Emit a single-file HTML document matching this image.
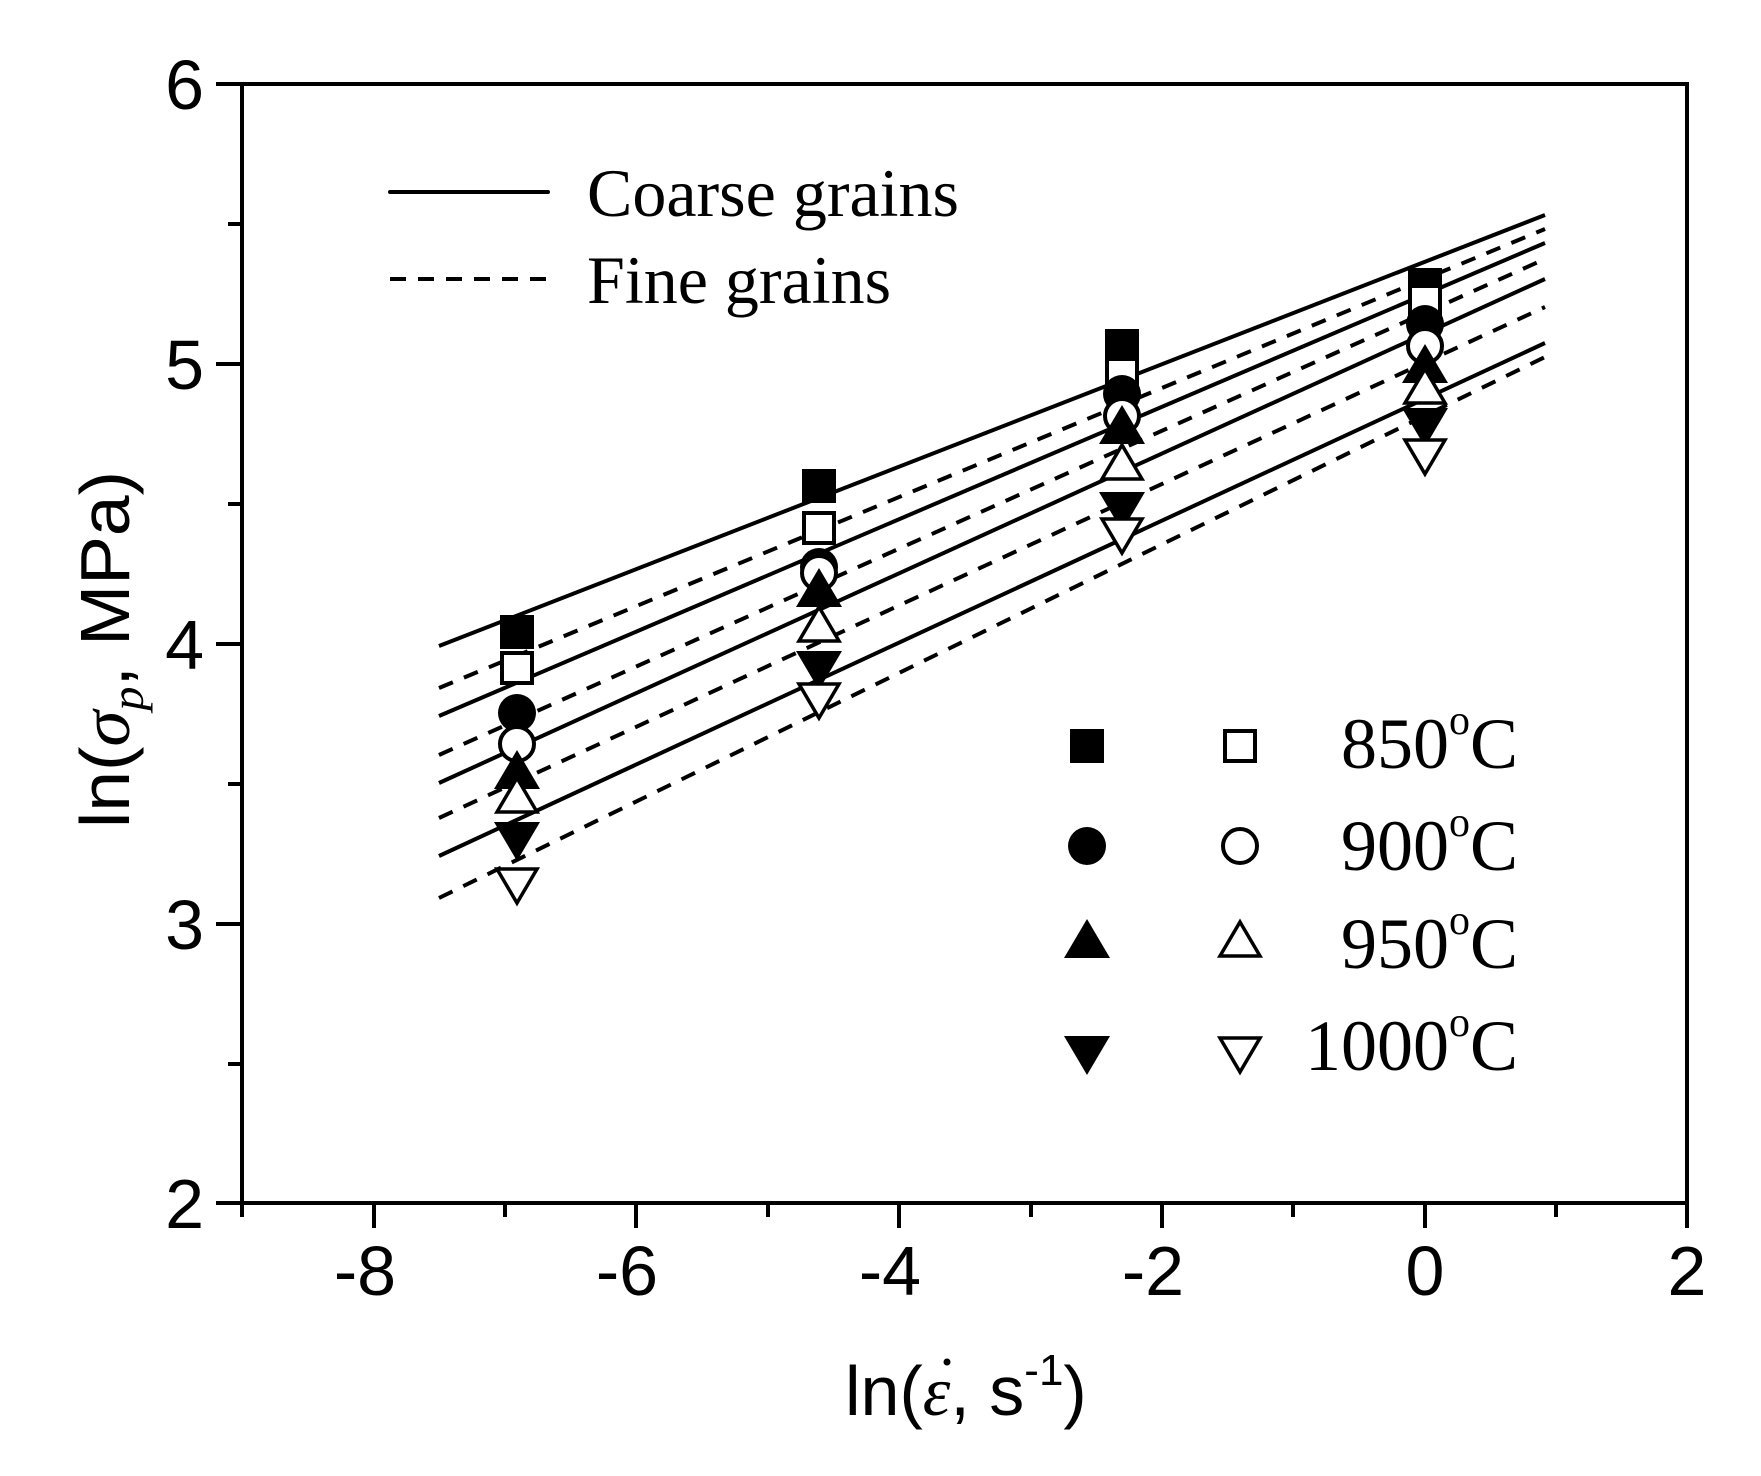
<!DOCTYPE html>
<html><head><meta charset="utf-8"><style>
html,body{margin:0;padding:0;background:#fff;}
svg{display:block;}
.ax{font-family:"Liberation Sans",Arial,sans-serif;font-size:70px;fill:#000;}
.lg{font-family:"Liberation Serif","Times New Roman",serif;fill:#000;}
</style></head><body>
<svg width="1761" height="1476" viewBox="0 0 1761 1476" xmlns="http://www.w3.org/2000/svg">
<defs>
<rect id="sqF" x="-17" y="-17" width="34" height="34" fill="#000"/>
<rect id="sqO" x="-15" y="-15" width="30" height="30" fill="#fff" stroke="#000" stroke-width="4"/>
<circle id="cF" r="19" fill="#000"/>
<circle id="cO" r="17" fill="#fff" stroke="#000" stroke-width="4"/>
<polygon id="tF" points="0,-22 23,17 -23,17" fill="#000"/>
<polygon id="tO" points="0,-19 20,15 -20,15" fill="#fff" stroke="#000" stroke-width="3.5"/>
<polygon id="dF" points="0,22 23,-17 -23,-17" fill="#000"/>
<polygon id="dO" points="0,19 20,-15 -20,-15" fill="#fff" stroke="#000" stroke-width="3.5"/>
</defs>
<g stroke="#000" stroke-width="4" fill="none" stroke-linecap="square">
<rect x="242" y="84" width="1445" height="1119"/>
<line x1="218" y1="84" x2="242" y2="84"/>
<line x1="230" y1="224" x2="242" y2="224"/>
<line x1="218" y1="364" x2="242" y2="364"/>
<line x1="230" y1="504" x2="242" y2="504"/>
<line x1="218" y1="644" x2="242" y2="644"/>
<line x1="230" y1="784" x2="242" y2="784"/>
<line x1="218" y1="924" x2="242" y2="924"/>
<line x1="230" y1="1064" x2="242" y2="1064"/>
<line x1="218" y1="1203" x2="242" y2="1203"/>
<line x1="242" y1="1203" x2="242" y2="1215"/>
<line x1="374" y1="1203" x2="374" y2="1226"/>
<line x1="505" y1="1203" x2="505" y2="1215"/>
<line x1="636" y1="1203" x2="636" y2="1226"/>
<line x1="768" y1="1203" x2="768" y2="1215"/>
<line x1="899" y1="1203" x2="899" y2="1226"/>
<line x1="1031" y1="1203" x2="1031" y2="1215"/>
<line x1="1162" y1="1203" x2="1162" y2="1226"/>
<line x1="1293" y1="1203" x2="1293" y2="1215"/>
<line x1="1425" y1="1203" x2="1425" y2="1226"/>
<line x1="1556" y1="1203" x2="1556" y2="1215"/>
<line x1="1687" y1="1203" x2="1687" y2="1226"/>
</g>
<g class="ax" text-anchor="end">
<text x="204" y="109">6</text>
<text x="204" y="389">5</text>
<text x="204" y="669">4</text>
<text x="204" y="949">3</text>
<text x="204" y="1228">2</text>
</g>
<g class="ax" text-anchor="middle">
<text x="365" y="1295">-8</text>
<text x="627" y="1295">-6</text>
<text x="890" y="1295">-4</text>
<text x="1153" y="1295">-2</text>
<text x="1425" y="1295">0</text>
<text x="1687" y="1295">2</text>
</g>
<text class="ax" font-size="76" transform="translate(129,828) rotate(-90)" textLength="357" lengthAdjust="spacingAndGlyphs">ln(<tspan font-family="Liberation Serif" font-style="italic">σ</tspan><tspan font-size="46" dy="14" font-family="Liberation Serif" font-style="italic">p</tspan><tspan dy="-14">, MPa)</tspan></text>
<text class="ax" x="845" y="1415">ln(<tspan font-family="Liberation Serif" font-style="italic">ε</tspan>, s<tspan font-size="44" dy="-30">-1</tspan><tspan dy="30">)</tspan></text>
<circle cx="947" cy="1362" r="3.5" fill="#000"/>
<g stroke="#000" stroke-width="4" fill="none">
<line x1="439" y1="646" x2="1545" y2="215"/>
<line x1="439" y1="716" x2="1545" y2="243"/>
<line x1="439" y1="783" x2="1545" y2="279"/>
<line x1="439" y1="856" x2="1545" y2="343"/>
</g>
<g stroke="#000" stroke-width="4" fill="none" stroke-dasharray="15 12">
<line x1="439" y1="688" x2="1545" y2="229"/>
<line x1="439" y1="755" x2="1545" y2="259"/>
<line x1="439" y1="818" x2="1545" y2="307"/>
<line x1="439" y1="898" x2="1545" y2="357"/>
</g>
<use href="#sqF" x="517" y="632"/><use href="#sqF" x="819" y="486"/><use href="#sqF" x="1122" y="346"/><use href="#sqF" x="1425" y="285"/>
<use href="#sqO" x="517" y="668"/><use href="#sqO" x="819" y="528"/><use href="#sqO" x="1122" y="374"/><use href="#sqO" x="1425" y="301"/>
<use href="#cF" x="517" y="713"/><use href="#cF" x="819" y="567"/><use href="#cF" x="1122" y="394"/><use href="#cF" x="1425" y="324"/>
<use href="#cO" x="517" y="744"/><use href="#cO" x="819" y="573"/><use href="#cO" x="1122" y="416"/><use href="#cO" x="1425" y="346"/>
<use href="#tF" x="517" y="772"/><use href="#tF" x="819" y="590"/><use href="#tF" x="1122" y="427"/><use href="#tF" x="1425" y="366"/>
<use href="#tO" x="517" y="797"/><use href="#tO" x="819" y="626"/><use href="#tO" x="1122" y="464"/><use href="#tO" x="1425" y="388"/>
<use href="#dF" x="517" y="839"/><use href="#dF" x="819" y="668"/><use href="#dF" x="1122" y="509"/><use href="#dF" x="1425" y="425"/>
<use href="#dO" x="517" y="884"/><use href="#dO" x="819" y="699"/><use href="#dO" x="1122" y="534"/><use href="#dO" x="1425" y="455"/>
<line x1="390" y1="192" x2="548" y2="192" stroke="#000" stroke-width="4" stroke-linecap="round"/>
<line x1="390" y1="279" x2="548" y2="279" stroke="#000" stroke-width="4" stroke-dasharray="16 12"/>
<text class="lg" x="587" y="216" font-size="68">Coarse grains</text>
<text class="lg" x="587" y="303" font-size="68">Fine grains</text>
<use href="#sqF" x="1087" y="746"/><use href="#sqO" x="1240" y="746"/>
<use href="#cF" x="1087" y="846"/><use href="#cO" x="1240" y="846"/>
<use href="#tF" x="1087" y="941"/><use href="#tO" x="1240" y="941"/>
<use href="#dF" x="1087" y="1053"/><use href="#dO" x="1240" y="1053"/>
<g class="lg" font-size="72" text-anchor="end">
<text x="1518" y="768">850<tspan font-size="42" dy="-34">o</tspan><tspan dy="34">C</tspan></text>
<text x="1518" y="870">900<tspan font-size="42" dy="-34">o</tspan><tspan dy="34">C</tspan></text>
<text x="1518" y="968">950<tspan font-size="42" dy="-34">o</tspan><tspan dy="34">C</tspan></text>
<text x="1518" y="1070">1000<tspan font-size="42" dy="-34">o</tspan><tspan dy="34">C</tspan></text>
</g>
</svg>
</body></html>
